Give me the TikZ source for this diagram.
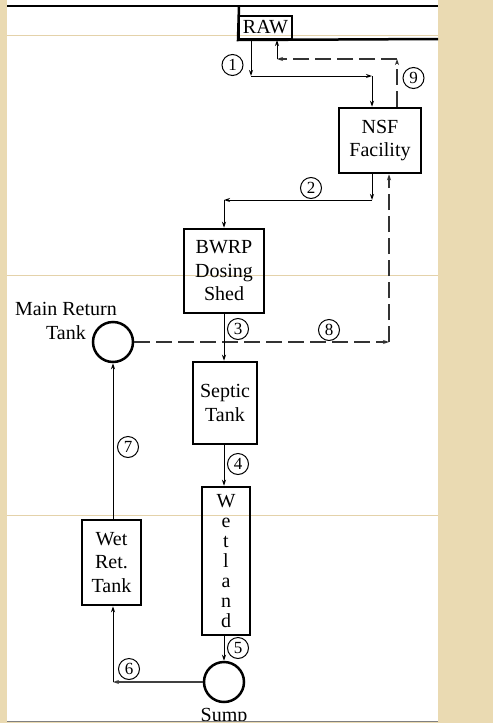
\documentclass[tikz,border=0pt]{standalone}
\usepackage{fontspec}
\setmainfont{Liberation Serif}
\usetikzlibrary{arrows.meta,calc}
\definecolor{parch}{RGB}{234,218,178}
\definecolor{faint}{RGB}{228,210,170}
\begin{document}
\begin{tikzpicture}[x=1pt,y=-1pt,
 box/.style={draw,line width=2.5pt,inner sep=0pt,align=center,font=\fontsize{20}{23.5}\selectfont},
 tank/.style={draw,circle,line width=2.5pt,minimum size=40pt,inner sep=0pt},
 num/.style={draw,circle,line width=1pt,minimum size=21pt,inner sep=0pt,font=\fontsize{17}{17}\selectfont},
 flow/.style={line width=1pt,-{Stealth[length=6pt,width=4pt]}},
 ret/.style={flow,dash pattern=on 16pt off 6pt,line width=1.4pt,draw=black!80},
 lbl/.style={font=\fontsize{20}{24}\selectfont,align=center,inner sep=0pt}]
\useasboundingbox (0,0) rectangle (493,723);
% background
\fill[parch] (0,0) rectangle (493,723);
\fill[white] (7,0) rectangle (438,721);
\foreach \yy in {35,275,515} \draw[faint,line width=1pt] (7,\yy) -- (438,\yy);
\draw[line width=2.5pt] (7,6) -- (438,6);

% nodes
\node[box,line width=2pt,minimum width=53pt,minimum height=23pt] (raw) at (265.5,27.5) {RAW};
\draw[line width=2.5pt] (239,6) -- (raw.south west) -- (438,39);
\node[box,minimum width=82pt,minimum height=65pt] (nsf) at (380,140.5) {NSF\\Facility};
\node[box,minimum width=80pt,minimum height=84pt] (bwrp) at (224,271) {BWRP\\Dosing\\Shed};
\node[box,minimum width=64pt,minimum height=82pt] (septic) at (225,403) {Septic\\Tank};
\node[box,minimum width=48pt,minimum height=148pt,font=\fontsize{20}{20}\selectfont] (wetland) at (226,561) {W\\e\\t\\l\\a\\n\\d};
\node[box,minimum width=59pt,minimum height=85pt] (wet) at (111.5,562.5) {Wet\\Ret.\\Tank};
\node[tank] (mrt) at (113,342) {};
\node[tank] (sump) at (224,682) {};
\node[lbl] (mrtl) at (66,321) {Main Return\\Tank};
\node[lbl,anchor=base] (sumpl) at (224,721) {Sump};

% coordinates
\coordinate (c1a) at (251,76);
\coordinate (c1b) at (372,76);
\coordinate (c9a) at (397,59);
\coordinate (c9b) at (277,59);
\coordinate (c2a) at (372,200);
\coordinate (c2b) at (224,200);
\coordinate (c8) at (389,342);
\coordinate (c6) at (113,682);
\coordinate (cx) at (224,0);

% flows
\draw[flow] (raw.south -| c1a) -- (c1a);
\draw[flow] (c1a) -- (c1b);
\draw[flow] (c1b) -- (c1b |- nsf.north);
\draw[ret] (nsf.north -| c9a) -- (c9a);
\draw[ret] (c9a) -- (c9b);
\draw[flow] (c9b) -- (c9b |- raw.south);
\draw[flow] (nsf.south -| c2a) -- (c2a);
\draw[flow] (c2a) -- (c2b);
\draw[flow] (c2b) -- (bwrp.north);
\draw[ret] (mrt.east) -- (c8);
\draw[ret] (c8) -- (c8 |- nsf.south);
\draw[flow] (bwrp.south -| cx) -- (septic.north -| cx);
\draw[flow] (septic.south -| cx) -- (wetland.north -| cx);
\draw[flow] (wetland.south -| cx) -- (sump.north);
\draw[flow,line width=1.6pt,draw=black!75] (sump.west) -- (c6);
\draw[flow] (c6) -- (c6 |- wet.south);
\draw[flow] (wet.north -| c6) -- (mrt.south);

% labels
\node[num] (n1) at (232.5,65) {1};
\node[num] (n9) at (413.5,78) {9};
\node[num] (n2) at (311,188) {2};
\node[num] (n8) at (329,330) {8};
\node[num] (n3) at (238,329) {3};
\node[num] (n4) at (238,464) {4};
\node[num] (n7) at (128,447) {7};
\node[num] (n5) at (238,648) {5};
\node[num] (n6) at (129,669) {6};

% bottom edge
\fill[parch] (0,722) rectangle (493,723);
\draw[gray,line width=1pt] (7,721.5) -- (438,721.5);
\end{tikzpicture}
\end{document}
